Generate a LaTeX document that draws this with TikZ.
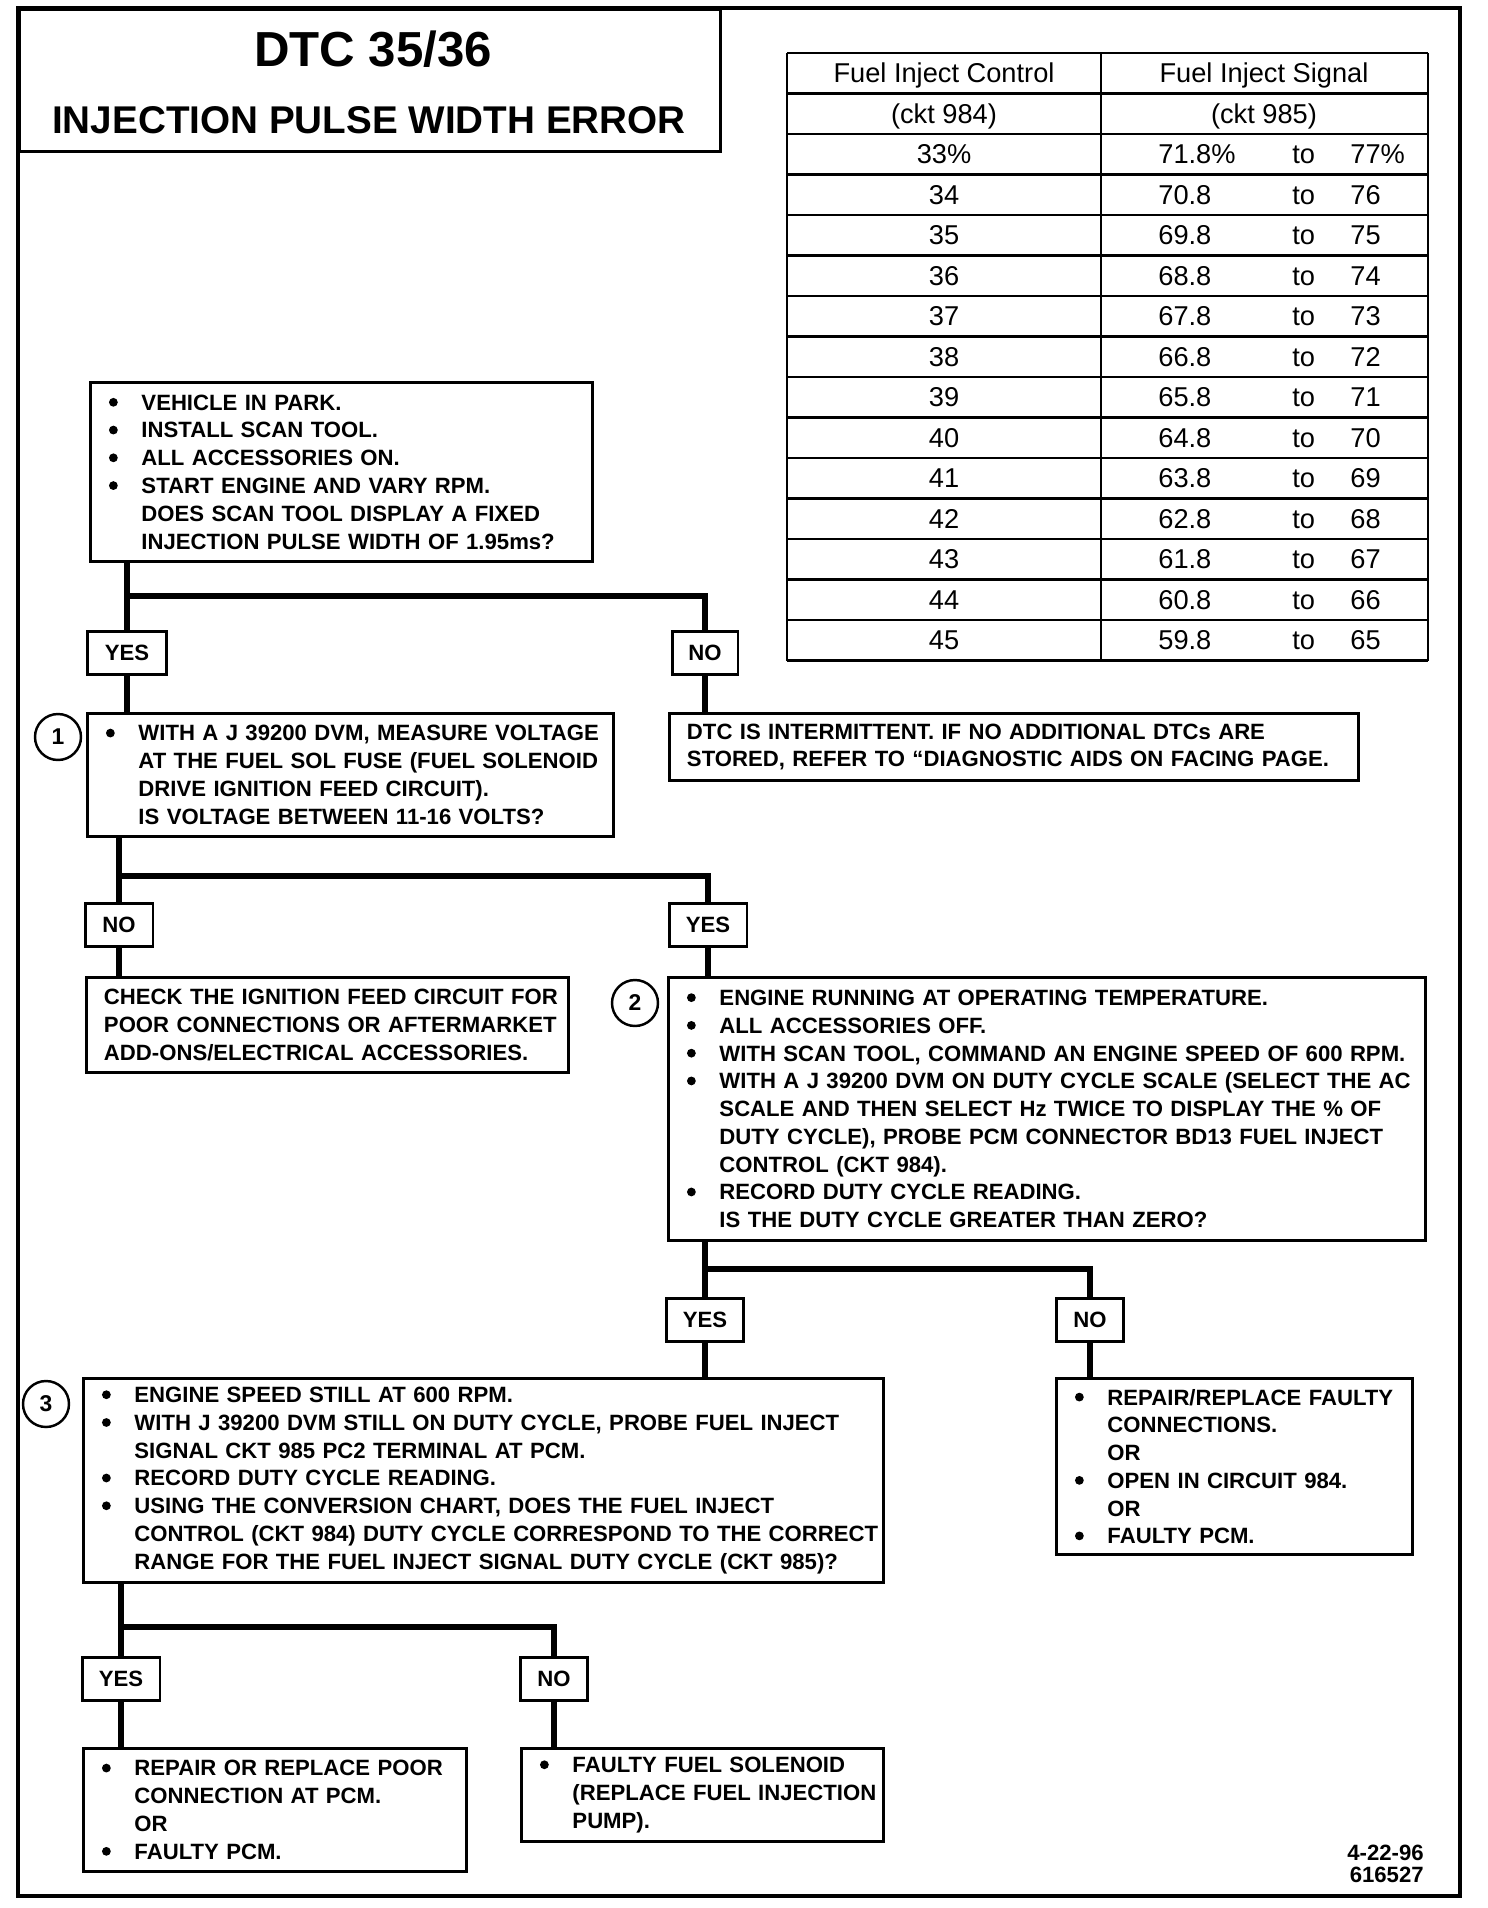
\documentclass[tikz,border=0pt]{standalone}
\usepackage{fontspec}
\setmainfont{Liberation Sans}

% Sangria de las lineas con vineta
\newlength{\sangria}
\setlength{\sangria}{0.67cm}
\newcommand{\punto}{\tikz[baseline={(0,-4.5pt)}] \fill (0,0) circle (2.5pt);}
\newcommand{\itm}[1]{\makebox[\sangria][l]{\hspace*{0.02cm}\punto}\mbox{#1}}
\newcommand{\sig}[1]{\hspace*{\sangria}\mbox{#1}}
\newcommand{\cajafont}{\fontsize{12.6}{15.8}\selectfont\bfseries}

\begin{document}
\begin{tikzpicture}[
    x=0.02cm, y=-0.02cm,
    caja/.style={draw, line width=1.7pt, anchor=north west, align=left, inner xsep=0.35cm, inner ysep=0pt, font=\cajafont},
    resp/.style={draw, line width=1.7pt, font=\cajafont, minimum height=0.87cm, inner sep=0pt},
    num/.style={circle, draw, line width=1.4pt, minimum size=0.92cm, inner sep=0pt, font=\fontsize{13}{13}\selectfont\bfseries},
    link/.style={line width=3.6pt},
    tabla/.style={line width=1.5pt},
    celda/.style={font=\fontsize{15.5}{18}\selectfont, inner sep=0pt, text height=11pt, text depth=0pt}
]

\useasboundingbox (0,0) rectangle (1488,1908);

% Alto de fila de la tabla
\def\fila{40.5}

% ==========================
% MARCO Y TITULO
% ==========================
\draw[line width=2pt] (18,8) rectangle (1460,1896);
\node[draw, line width=1.8pt, anchor=north west, minimum width=14.02cm, minimum height=2.84cm] (titulo) at (18,8) {};
\node[font=\fontsize{28}{30}\selectfont\bfseries, text depth=0pt] (dtc) at (373,49) {DTC 35/36};
\node[font=\fontsize{22}{24}\selectfont\bfseries, text depth=0pt] (error) at (369,120) {INJECTION PULSE WIDTH ERROR};

% ==========================
% TABLA DE CONVERSION
% ==========================
\foreach \r in {0,...,15} {
    \draw[tabla] (787,{53+\r*\fila}) -- (1428,{53+\r*\fila});
}
\foreach \x in {787,1101,1428} {
    \draw[tabla] (\x,53) -- (\x,{53+15*\fila});
}

\node[celda] (h-1) at (944,{53+0.5*\fila}) {Fuel Inject Control};
\node[celda] (h-2) at (1264,{53+0.5*\fila}) {Fuel Inject Signal};
\node[celda] (h-3) at (944,{53+1.5*\fila}) {(ckt 984)};
\node[celda] (h-4) at (1264,{53+1.5*\fila}) {(ckt 985)};

\foreach \r/\a/\b/\c in {
    2/33\%/71.8\%/77\%, 3/34/70.8/76, 4/35/69.8/75, 5/36/68.8/74, 6/37/67.8/73,
    7/38/66.8/72, 8/39/65.8/71, 9/40/64.8/70, 10/41/63.8/69, 11/42/62.8/68,
    12/43/61.8/67, 13/44/60.8/66, 14/45/59.8/65
} {
    \node[celda] (ctl-\r) at (944,{53+(\r+0.5)*\fila}) {\a};
    \node[celda, anchor=west] (lo-\r) at (1158,{53+(\r+0.5)*\fila}) {\b};
    \node[celda, anchor=west] (to-\r) at (1292,{53+(\r+0.5)*\fila}) {to};
    \node[celda, anchor=west] (hi-\r) at (1350,{53+(\r+0.5)*\fila}) {\c};
}

% ==========================
% PASO INICIAL
% ==========================
\node[caja, text width=9.34cm, minimum height=3.58cm] (inicio) at (89,381) {%
\itm{VEHICLE IN PARK.}\\
\itm{INSTALL SCAN TOOL.}\\
\itm{ALL ACCESSORIES ON.}\\
\itm{START ENGINE AND VARY RPM.}\\
\sig{DOES SCAN TOOL DISPLAY A FIXED}\\
\sig{INJECTION PULSE WIDTH OF 1.95ms?}};

\node[resp, minimum width=1.58cm] (si-1) at (127,653) {YES};
\node[resp, minimum width=1.32cm] (no-1) at (705,653) {NO};
\coordinate (j-1) at (0,596);

% ==========================
% PASO 1
% ==========================
\node[caja, text width=9.82cm, minimum height=2.46cm] (paso-1) at (86,712) {%
\itm{WITH A J 39200 DVM, MEASURE VOLTAGE}\\
\sig{AT THE FUEL SOL FUSE (FUEL SOLENOID}\\
\sig{DRIVE IGNITION FEED CIRCUIT).}\\
\sig{IS VOLTAGE BETWEEN 11-16 VOLTS?}};
\node[num] (n-1) at (58,737) {1};

\node[caja, text width=13.08cm, minimum height=1.34cm] (intermit) at (668,712) {%
\mbox{DTC IS INTERMITTENT. IF NO ADDITIONAL DTCs ARE}\\
\mbox{STORED, REFER TO ``DIAGNOSTIC AIDS ON FACING PAGE.}};

\node[resp, minimum width=1.36cm] (no-2) at (119,925) {NO};
\node[resp, minimum width=1.56cm] (si-2) at (708,925) {YES};
\coordinate (j-2) at (0,876);

\node[caja, text width=8.94cm, minimum height=1.9cm] (revisar) at (85,976) {%
\mbox{CHECK THE IGNITION FEED CIRCUIT FOR}\\
\mbox{POOR CONNECTIONS OR AFTERMARKET}\\
\mbox{ADD-ONS/ELECTRICAL ACCESSORIES.}};

% ==========================
% PASO 2
% ==========================
\node[caja, text width=14.44cm, minimum height=5.26cm] (paso-2) at (667,976) {%
\itm{ENGINE RUNNING AT OPERATING TEMPERATURE.}\\
\itm{ALL ACCESSORIES OFF.}\\
\itm{WITH SCAN TOOL, COMMAND AN ENGINE SPEED OF 600 RPM.}\\
\itm{WITH A J 39200 DVM ON DUTY CYCLE SCALE (SELECT THE AC}\\
\sig{SCALE AND THEN SELECT Hz TWICE TO DISPLAY THE \% OF}\\
\sig{DUTY CYCLE), PROBE PCM CONNECTOR BD13 FUEL INJECT}\\
\sig{CONTROL (CKT 984).}\\
\itm{RECORD DUTY CYCLE READING.}\\
\sig{IS THE DUTY CYCLE GREATER THAN ZERO?}};
\node[num] (n-2) at (635,1003) {2};

\node[resp, minimum width=1.54cm] (si-3) at (705,1320) {YES};
\node[resp, minimum width=1.34cm] (no-3) at (1090,1320) {NO};
\coordinate (j-3) at (0,1269);

% ==========================
% PASO 3
% ==========================
\node[caja, text width=15.3cm, minimum height=4.08cm] (paso-3) at (82,1377) {%
\itm{ENGINE SPEED STILL AT 600 RPM.}\\
\itm{WITH J 39200 DVM STILL ON DUTY CYCLE, PROBE FUEL INJECT}\\
\sig{SIGNAL CKT 985 PC2 TERMINAL AT PCM.}\\
\itm{RECORD DUTY CYCLE READING.}\\
\itm{USING THE CONVERSION CHART, DOES THE FUEL INJECT}\\
\sig{CONTROL (CKT 984) DUTY CYCLE CORRESPOND TO THE CORRECT}\\
\sig{RANGE FOR THE FUEL INJECT SIGNAL DUTY CYCLE (CKT 985)?}};
\node[num] (n-3) at (46,1404) {3};

\node[caja, text width=6.42cm, minimum height=3.52cm] (reparar-984) at (1055,1377) {%
\itm{REPAIR/REPLACE FAULTY}\\
\sig{CONNECTIONS.}\\
\sig{OR}\\
\itm{OPEN IN CIRCUIT 984.}\\
\sig{OR}\\
\itm{FAULTY PCM.}};

\node[resp, minimum width=1.56cm] (si-4) at (121,1679) {YES};
\node[resp, minimum width=1.34cm] (no-4) at (554,1679) {NO};
\coordinate (j-4) at (0,1627);

\node[caja, text width=6.96cm, minimum height=2.46cm] (reparar-pcm) at (82,1747) {%
\itm{REPAIR OR REPLACE POOR}\\
\sig{CONNECTION AT PCM.}\\
\sig{OR}\\
\itm{FAULTY PCM.}};

\node[caja, text width=6.54cm, minimum height=1.86cm] (solenoide) at (520,1747) {%
\itm{FAULTY FUEL SOLENOID}\\
\sig{(REPLACE FUEL INJECTION}\\
\sig{PUMP).}};

\node[font=\fontsize{12.6}{12.5}\selectfont\bfseries, align=right, anchor=north east, inner sep=0pt] (fecha) at (1424,1845) {4-22-96\\616527};

% ==========================
% CONEXIONES
% ==========================
\draw[link] (inicio.south -| si-1) -- (si-1.north);
\draw[link] (si-1 |- j-1) -| (no-1.north);
\draw[link] (si-1.south) -- (si-1.south |- paso-1.north);
\draw[link] (no-1.south) -- (no-1.south |- intermit.north);

\draw[link] (paso-1.south -| no-2) -- (no-2.north);
\draw[link] (no-2 |- j-2) -| (si-2.north);
\draw[link] (no-2.south) -- (no-2.south |- revisar.north);
\draw[link] (si-2.south) -- (si-2.south |- paso-2.north);

\draw[link] (paso-2.south -| si-3) -- (si-3.north);
\draw[link] (si-3 |- j-3) -| (no-3.north);
\draw[link] (si-3.south) -- (si-3.south |- paso-3.north);
\draw[link] (no-3.south) -- (no-3.south |- reparar-984.north);

\draw[link] (paso-3.south -| si-4) -- (si-4.north);
\draw[link] (si-4 |- j-4) -| (no-4.north);
\draw[link] (si-4.south) -- (si-4.south |- reparar-pcm.north);
\draw[link] (no-4.south) -- (no-4.south |- solenoide.north);

\end{tikzpicture}
\end{document}
